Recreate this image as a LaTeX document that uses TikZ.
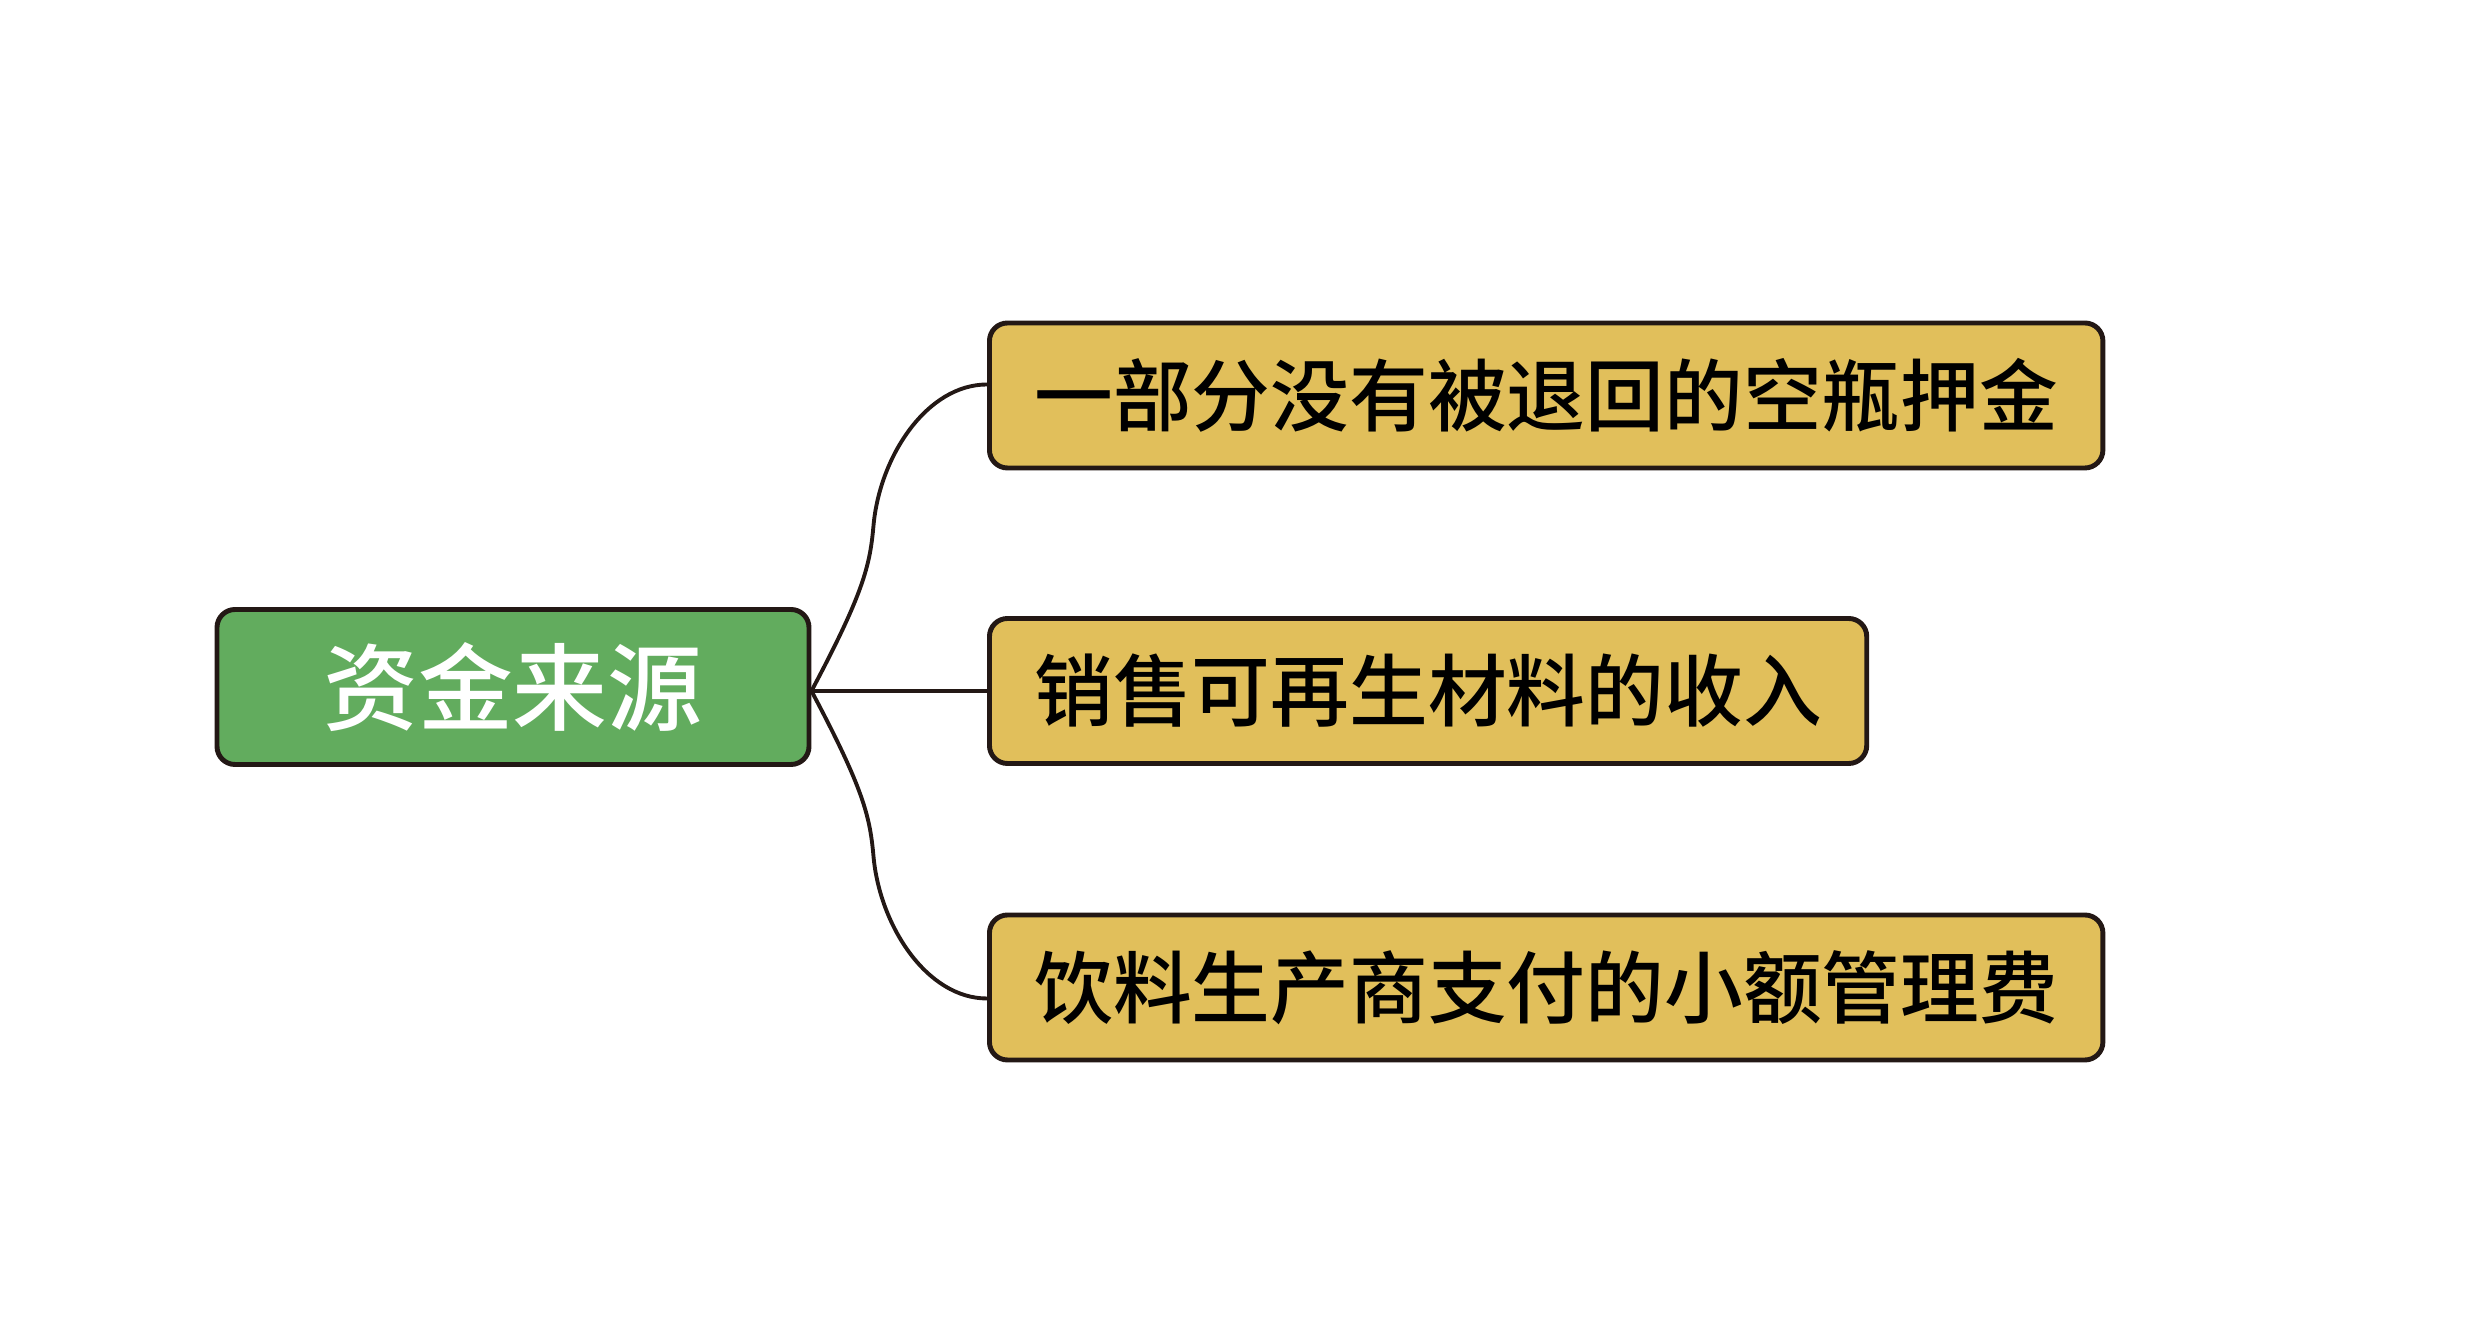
\documentclass[tikz,border=0pt]{standalone}
\usepackage{fontspec}
\newfontfamily\cjk{Noto Sans CJK SC Medium}
\definecolor{rootgreen}{HTML}{62AC5E}
\definecolor{leafgold}{HTML}{E1BF5B}
\definecolor{edgeink}{HTML}{231815}
\begin{document}
\begin{tikzpicture}[
  x=1cm,
  y=1cm,
  box/.style={draw=edgeink, line width=1.4pt, rounded corners=0.18cm, inner sep=0pt},
  root/.style={box, fill=rootgreen, text=white, minimum width=5.92cm, minimum height=1.55cm,
    font=\cjk\fontsize{27pt}{32pt}\selectfont},
  leaf/.style={box, fill=leafgold, text=black, inner xsep=0.45cm, minimum height=1.45cm,
    font=\cjk\fontsize{22.4pt}{27pt}\selectfont},
  link/.style={draw=edgeink, line width=1.1pt}
]
\useasboundingbox (0,0) rectangle (24.81,13.22);

\node[root] (src) at (5.13,6.35) {资金来源};

\node[leaf, anchor=west] (deposit) at (9.87,9.265) {一部分没有被退回的空瓶押金};
\node[leaf, anchor=west] (recycle) at (9.87,6.31) {销售可再生材料的收入};
\node[leaf, anchor=west] (fee) at (9.87,3.345) {饮料生产商支付的小额管理费};

\draw[link] ([yshift=-0.04cm]src.east) .. controls +(62:1.1) and +(-95:0.4) .. ++(0.62,1.65)
  .. controls +(85:0.7) and +(-0.6,0) .. ([yshift=0.11cm]deposit.west);
\draw[link] ([yshift=-0.04cm]src.east) -- (recycle.west);
\draw[link] ([yshift=-0.04cm]src.east) .. controls +(-62:1.1) and +(95:0.4) .. ++(0.62,-1.65)
  .. controls +(-85:0.7) and +(-0.6,0) .. ([yshift=-0.11cm]fee.west);
\end{tikzpicture}
\end{document}
